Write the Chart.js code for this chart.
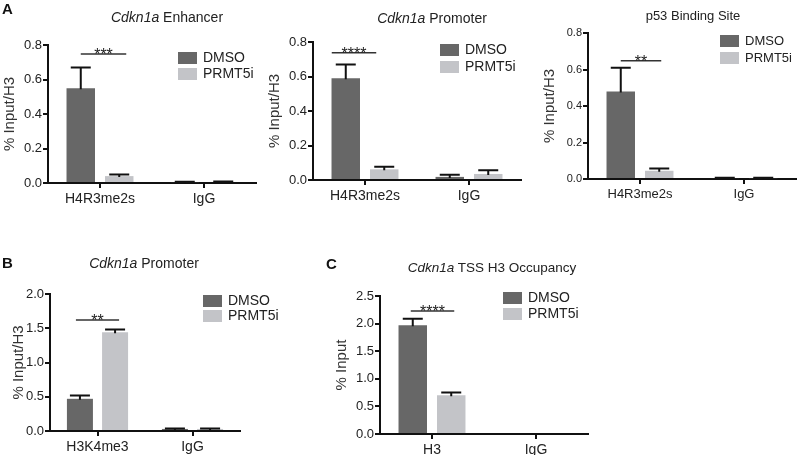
<!DOCTYPE html>
<html lang="en">
<head>
<meta charset="UTF-8">
<title>Cdkn1a ChIP-qPCR</title>
<style>
  body { margin: 0; background: #fff; }
  #fig { position: relative; width: 800px; height: 455px; overflow: hidden;
         font-family: "Liberation Sans", Arial, sans-serif; color: #222; }
  #fig canvas { position: absolute; left: 0; top: 0; }
  .ttl { position: absolute; width: 260px; text-align: center; font-size: 14px; line-height: 14px; white-space: nowrap; }
  .lbl { position: absolute; font-weight: bold; font-size: 15px; line-height: 15px; color: #111; }
</style>
</head>
<body>
<div id="fig">
  <canvas id="a1" width="800" height="455"></canvas>
  <canvas id="a2" width="800" height="455"></canvas>
  <canvas id="a3" width="800" height="455"></canvas>
  <canvas id="b1" width="800" height="455"></canvas>
  <canvas id="c1" width="800" height="455"></canvas>

  <div class="lbl" style="left:2px;top:1px">A</div>
  <div class="lbl" style="left:2px;top:255px">B</div>
  <div class="lbl" style="left:326px;top:256px">C</div>

  <div class="ttl" style="left:37px;top:10px"><i>Cdkn1a</i> Enhancer</div>
  <div class="ttl" style="left:302px;top:11px"><i>Cdkn1a</i> Promoter</div>
  <div class="ttl" style="left:563px;top:9px;font-size:13px">p53 Binding Site</div>
  <div class="ttl" style="left:14px;top:256px"><i>Cdkn1a</i> Promoter</div>
  <div class="ttl" style="left:362px;top:261px;font-size:13.5px"><i>Cdkn1a</i> TSS H3 Occupancy</div>
</div>

<script src="https://cdn.jsdelivr.net/npm/chart.js"></script>
<script>
    // --- data ---
    var seriesNames = ['DMSO', 'PRMT5i'];

    var groupsA = ['H4R3me2s', 'IgG'];
    var enhDmso = [0.55, 0.005], enhDmsoErr = [0.12, 0.002];
    var enhPrmt = [0.04, 0.006], enhPrmtErr = [0.01, 0.002];
    var proDmso = [0.59, 0.018], proDmsoErr = [0.08, 0.012];
    var proPrmt = [0.062, 0.035], proPrmtErr = [0.015, 0.022];
    var p53Dmso = [0.48, 0.005], p53DmsoErr = [0.13, 0.002];
    var p53Prmt = [0.045, 0.005], p53PrmtErr = [0.013, 0.002];

    var groupsB = ['H3K4me3', 'IgG'];
    var k4Dmso = [0.47, 0.03], k4DmsoErr = [0.05, 0.005];
    var k4Prmt = [1.44, 0.03], k4PrmtErr = [0.04, 0.005];

    var groupsC = ['H3', 'IgG'];
    var h3Dmso = [1.97, 0], h3DmsoErr = [0.12, 0];
    var h3Prmt = [0.70, 0], h3PrmtErr = [0.05, 0];

    var colors = ['#676767', '#c3c4c8'];
    var YW = 48, XH = 26;
    var FONT = '"Liberation Sans", Arial, sans-serif';

    // error bars, significance bar and legend drawn on top of the bars
    function extras(c) {
        return {
            id: 'extras',
            afterDatasetsDraw: function (chart) {
                var ctx = chart.ctx, ys = chart.scales.y;
                var errs = [c.dmsoErr, c.prmtErr];
                ctx.save();
                ctx.strokeStyle = '#111';
                ctx.lineWidth = 2;
                chart.data.datasets.forEach(function (ds, i) {
                    chart.getDatasetMeta(i).data.forEach(function (bar, j) {
                        if (!errs[i][j]) return;
                        var top = ys.getPixelForValue(ds.data[j] + errs[i][j]);
                        ctx.beginPath();
                        ctx.moveTo(bar.x, bar.y + 1);
                        ctx.lineTo(bar.x, top);
                        ctx.moveTo(bar.x - 10, top);
                        ctx.lineTo(bar.x + 10, top);
                        ctx.stroke();
                    });
                });

                // significance bracket
                var b = c.bracket;
                var x1 = chart.getDatasetMeta(0).data[0].x + b.dx1;
                var x2 = chart.getDatasetMeta(1).data[0].x + b.dx2;
                var y = ys.getPixelForValue(b.y);
                ctx.strokeStyle = '#333';
                ctx.lineWidth = 1.5;
                ctx.beginPath();
                ctx.moveTo(x1, y);
                ctx.lineTo(x2, y);
                ctx.stroke();
                ctx.fillStyle = '#222';
                ctx.font = '16px ' + FONT;
                ctx.textAlign = 'center';
                ctx.textBaseline = 'alphabetic';
                ctx.fillText(b.stars, (x1 + x2) / 2, y + 6);

                // legend
                var L = c.legend;
                ctx.font = L.size + 'px ' + FONT;
                ctx.textAlign = 'left';
                ctx.textBaseline = 'middle';
                seriesNames.forEach(function (name, i) {
                    var by = L.y + i * L.gap;
                    ctx.fillStyle = colors[i];
                    ctx.fillRect(L.x, by, 19, 12);
                    ctx.fillStyle = '#222';
                    ctx.fillText(name, L.x + 25, by + 6.5);
                });
                ctx.restore();
            }
        };
    }

    function makePanel(id, c) {
        return new Chart(document.getElementById(id), {
            type: 'bar',
            data: {
                labels: c.labels,
                datasets: [
                    { label: seriesNames[0], data: c.dmso, backgroundColor: colors[0], borderWidth: 0 },
                    { label: seriesNames[1], data: c.prmt, backgroundColor: colors[1], borderWidth: 0 }
                ]
            },
            options: {
                responsive: false,
                animation: false,
                events: [],
                categoryPercentage: 0.74,
                barPercentage: 0.74,
                layout: { padding: { left: c.box.l - YW, top: c.box.t, right: 800 - c.box.r, bottom: 455 - c.box.b - XH } },
                plugins: { legend: { display: false }, tooltip: { enabled: false } },
                scales: {
                    x: {
                        offset: true,
                        grid: { drawOnChartArea: false, drawTicks: true, tickLength: 5, color: '#111', lineWidth: 2, offset: false },
                        border: { display: true, color: '#111', width: 2 },
                        ticks: { color: '#222', font: { family: FONT, size: c.xFont }, padding: 3, maxRotation: 0 },
                        afterFit: function (s) { s.height = XH; }
                    },
                    y: {
                        min: 0,
                        max: c.yMax,
                        grid: { drawOnChartArea: false, drawTicks: true, tickLength: 5, color: '#111', lineWidth: 2 },
                        border: { display: true, color: '#111', width: 2 },
                        ticks: {
                            stepSize: c.yStep, color: '#222', padding: 1,
                            font: { family: FONT, size: c.yFont },
                            callback: function (v) { return v.toFixed(1); }
                        },
                        title: {
                            display: true, text: c.yTitle, color: '#333',
                            font: { family: FONT, size: 15 },
                            padding: { top: c.titlePad, bottom: 0 }
                        },
                        afterFit: function (s) { s.width = YW; }
                    }
                }
            },
            plugins: [extras(c)]
        });
    }

    makePanel('a1', {
        labels: groupsA, dmso: enhDmso, dmsoErr: enhDmsoErr, prmt: enhPrmt, prmtErr: enhPrmtErr,
        yMax: 0.8, yStep: 0.2, yTitle: '% Input/H3', yFont: 13, xFont: 14, titlePad: 1,
        box: { l: 48, t: 45, r: 256, b: 183 },
        bracket: { y: 0.748, stars: '***', dx1: 0, dx2: 7 },
        legend: { x: 178, y: 52, gap: 16, size: 14 }
    });
    makePanel('a2', {
        labels: groupsA, dmso: proDmso, dmsoErr: proDmsoErr, prmt: proPrmt, prmtErr: proPrmtErr,
        yMax: 0.8, yStep: 0.2, yTitle: '% Input/H3', yFont: 13, xFont: 14, titlePad: 1,
        box: { l: 313, t: 42, r: 521, b: 180 },
        bracket: { y: 0.738, stars: '****', dx1: -14, dx2: -8 },
        legend: { x: 440, y: 44, gap: 17, size: 14 }
    });
    makePanel('a3', {
        labels: groupsA, dmso: p53Dmso, dmsoErr: p53DmsoErr, prmt: p53Prmt, prmtErr: p53PrmtErr,
        yMax: 0.8, yStep: 0.2, yTitle: '% Input/H3', yFont: 11, xFont: 13, titlePad: 1,
        box: { l: 588, t: 33, r: 796, b: 179 },
        bracket: { y: 0.648, stars: '**', dx1: 0, dx2: 2 },
        legend: { x: 720, y: 35, gap: 17, size: 13 }
    });
    makePanel('b1', {
        labels: groupsB, dmso: k4Dmso, dmsoErr: k4DmsoErr, prmt: k4Prmt, prmtErr: k4PrmtErr,
        yMax: 2.0, yStep: 0.5, yTitle: '% Input/H3', yFont: 13, xFont: 14, titlePad: 8,
        box: { l: 50, t: 294, r: 240, b: 431 },
        bracket: { y: 1.62, stars: '**', dx1: -4, dx2: 4 },
        legend: { x: 203, y: 295, gap: 15, size: 14 }
    });
    makePanel('c1', {
        labels: groupsC, dmso: h3Dmso, dmsoErr: h3DmsoErr, prmt: h3Prmt, prmtErr: h3PrmtErr,
        yMax: 2.5, yStep: 0.5, yTitle: '% Input', yFont: 13, xFont: 14, titlePad: 1,
        box: { l: 380, t: 296, r: 588, b: 434 },
        bracket: { y: 2.23, stars: '****', dx1: -2, dx2: 3 },
        legend: { x: 503, y: 292, gap: 16, size: 14 }
    });
</script>
</body>
</html>
